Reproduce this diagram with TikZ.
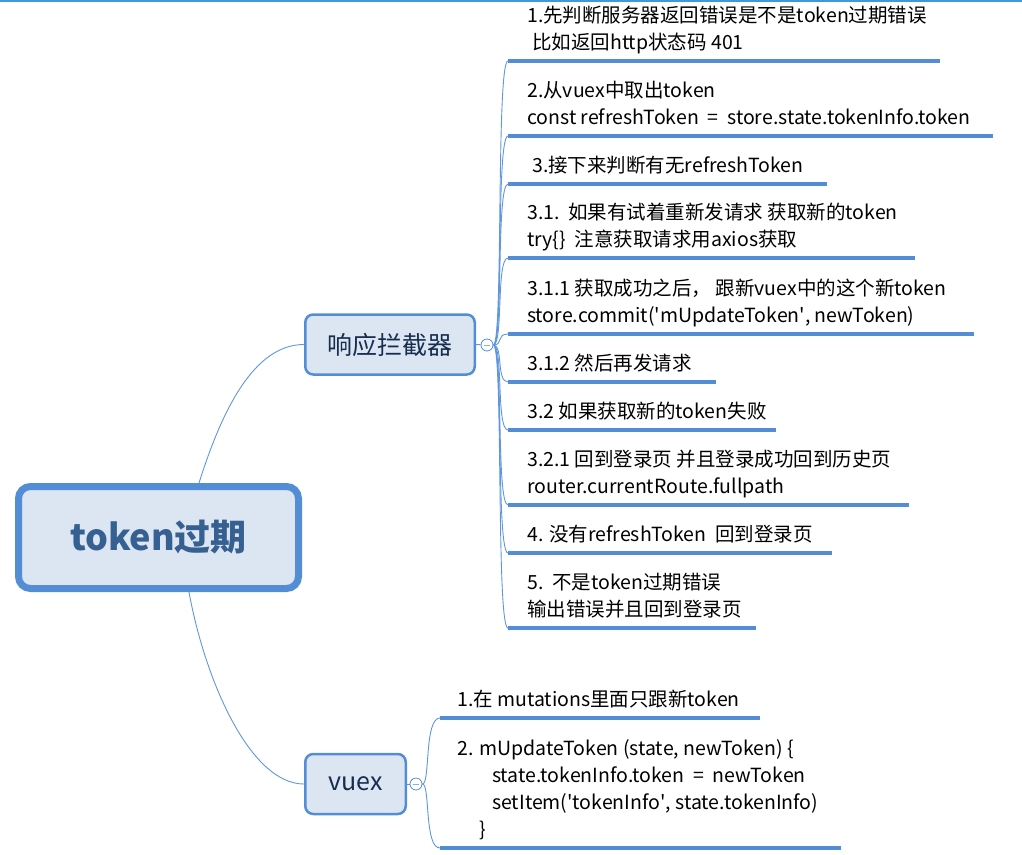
\documentclass[tikz,border=0pt]{standalone}
\usepackage{fontspec}
\setmainfont{Noto Sans CJK SC}
\usepackage{xcolor}
\definecolor{mapblue}{RGB}{83,141,213}
\definecolor{mapfill}{RGB}{220,230,242}
\definecolor{rootink}{RGB}{54,96,146}
\definecolor{branchink}{RGB}{23,45,78}
\definecolor{linkblue}{RGB}{96,150,220}
\definecolor{topline}{RGB}{60,155,215}
\usepackage{tikz}
\usetikzlibrary{calc}
\newcommand{\tkq}{\textquotesingle}

\tikzset{
  rootbox/.style={draw=mapblue, fill=mapfill, line width=7pt, rounded corners=12pt, inner sep=0pt,
    minimum width=280pt, minimum height=102pt, text=rootink, font=\fontsize{36}{40}\selectfont\bfseries},
  branchbox/.style={draw=mapblue, fill=mapfill, line width=2.5pt, rounded corners=8pt, inner sep=0pt,
    minimum height=60pt, text=branchink, font=\fontsize{25}{30}\selectfont},
  hub/.style={circle, draw=mapblue, fill=white, line width=0.8pt, minimum size=12pt, inner sep=0pt},
  link/.style={draw=linkblue, line width=0.9pt},
  bar/.style={draw=mapblue, line width=4pt},
  leaf/.style={anchor=south west, inner sep=0pt, align=left, font=\fontsize{19.5}{27}\selectfont},
}

\begin{document}
\begin{tikzpicture}[x=1pt, y=-1pt]
  \useasboundingbox (0,0) rectangle (1022,854);
  \draw[topline, line width=1.5pt] (0,0.75) -- (1022,0.75);

  % main topic and the two branches
  \node[rootbox] (root) at (158.5,537.5) {token过期};
  \node[branchbox, minimum width=169.5pt] (resp) at (390,344.5) {响应拦截器};
  \node[branchbox, minimum width=100.5pt] (vuex) at (355.5,784) {vuex};
  \node[hub] (hubA) at (487,345) {};
  \node[hub] (hubB) at (416,784) {};

  \draw[link] ([xshift=40.5pt]root.north) .. controls +(23,-73) and +(-50,0) .. (resp.west);
  \draw[link] ([xshift=30.5pt]root.south) .. controls +(16,88) and +(-54,0) .. (vuex.west);
  \draw[link] (resp.east) -- (hubA);
  \draw[link] (vuex.east) -- (hubB);
  \draw[mapblue!70, line width=1pt] ([xshift=3pt]hubA.west) -- ([xshift=-3pt]hubA.east);
  \draw[mapblue!70, line width=1pt] ([xshift=3pt]hubB.west) -- ([xshift=-3pt]hubB.east);

  % items of the interceptor
  \foreach \uy/\ux/\txt [count=\i] in {
    61/940/{1.先判断服务器返回错误是不是token过期错误\\\hspace*{5pt}比如返回http状态码 401},
    136/993/{2.从vuex中取出token\\const refreshToken\ \ =\ \ store.state.tokenInfo.token},
    184/827/{\hspace*{5pt}3.接下来判断有无refreshToken},
    258/915/{3.1.\ \ 如果有试着重新发请求 获取新的token\\try\{\}\ \ 注意获取请求用axios获取},
    334/974/{3.1.1 获取成功之后，\ 跟新vuex中的这个新token\\store.commit(\tkq mUpdateToken\tkq, newToken)},
    382/716/{3.1.2 然后再发请求},
    430/776/{3.2 如果获取新的token失败},
    505/909/{3.2.1 回到登录页 并且登录成功回到历史页\\router.currentRoute.fullpath},
    553/832/{4. 没有refreshToken\ \ 回到登录页},
    628/756/{5.\ \ 不是token过期错误\\输出错误并且回到登录页}%
  }{
    \coordinate (r\i) at (508,\uy);
    \coordinate (e\i) at (\ux,\uy);
    \node[leaf] (t\i) at (527,\uy-3) {\txt\strut};
    \draw[link] (hubA.east) .. controls +(10,0) and +(-12,0) .. (r\i);
    \draw[bar] (r\i) -- (e\i);
  }

  % items of vuex
  \foreach \uy/\ux/\txt [count=\i] in {
    718/760/{1.在 mutations里面只跟新token},
    848/841/{2. mUpdateToken (state, newToken) \{\\\hspace*{35pt}state.tokenInfo.token\ \ =\ \ newToken\\\hspace*{35pt}setItem(\tkq tokenInfo\tkq, state.tokenInfo)\\\hspace*{22pt}\}}%
  }{
    \coordinate (s\i) at (440,\uy);
    \coordinate (f\i) at (\ux,\uy);
    \node[leaf] (v\i) at (457,\uy-3) {\txt\strut};
    \draw[link] (hubB.east) .. controls +(8,0) and +(-16,0) .. (s\i);
    \draw[bar] (s\i) -- (f\i);
  }
\end{tikzpicture}
\end{document}
